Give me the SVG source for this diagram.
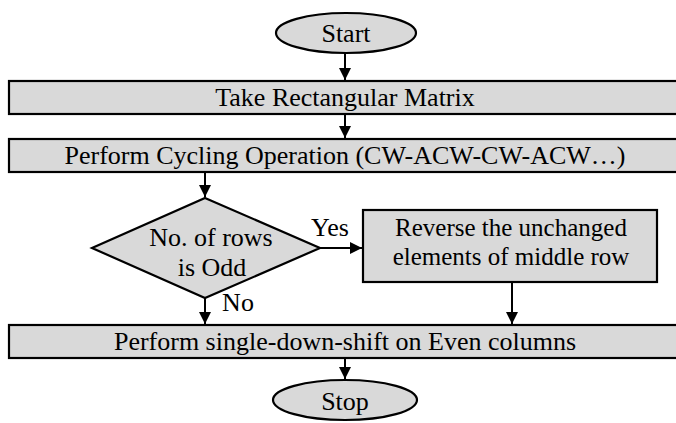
<svg xmlns="http://www.w3.org/2000/svg" width="676" height="423" viewBox="0 0 676 423">
  <style>
    .shape { fill: #d9d9d9; stroke: #000; stroke-width: 2.2; }
    text { font-family: 'Liberation Serif', 'Times New Roman', 'DejaVu Serif', serif; font-size: 26px; fill: #000; text-anchor: middle; }
    .small { font-size: 25px; }
    .edge { fill: none; stroke: #000; stroke-width: 2; marker-end: url(#arrow); }
  </style>
  <defs>
    <marker id="arrow" viewBox="0 0 10 10" refX="10" refY="5" markerWidth="6" markerHeight="6" orient="auto" markerUnits="strokeWidth">
      <path d="M0,0 L10,5 L0,10 z" fill="#000"/>
    </marker>
  </defs>
  <rect width="676" height="423" fill="#fff"/>

  <g id="connectors">
    <line class="edge" x1="345" y1="53" x2="345" y2="80"/>
    <line class="edge" x1="345" y1="114" x2="345" y2="138"/>
    <line class="edge" x1="205" y1="172" x2="205" y2="197"/>
    <line class="edge" x1="320" y1="248" x2="362" y2="248"/>
    <line class="edge" x1="205" y1="298" x2="205" y2="324"/>
    <line class="edge" x1="512" y1="282" x2="512" y2="324"/>
    <line class="edge" x1="345" y1="358" x2="345" y2="379"/>
  </g>

  <g id="start">
    <ellipse class="shape" cx="346" cy="33" rx="70" ry="20"/>
    <text x="346" y="42">Start</text>
  </g>

  <g id="take-matrix">
    <rect class="shape" x="9" y="81" width="680" height="33"/>
    <text x="345" y="106">Take Rectangular Matrix</text>
  </g>

  <g id="cycling">
    <rect class="shape" x="9" y="139" width="680" height="33"/>
    <text x="345" y="164">Perform Cycling Operation (CW-ACW-CW-ACW…)</text>
  </g>

  <g id="odd-rows">
    <polygon class="shape" points="205,198 320,248 205,298 92,248"/>
    <text x="211" y="246">No. of rows</text>
    <text x="212" y="276">is Odd</text>
    <text x="330" y="236">Yes</text>
    <text x="238" y="311">No</text>
  </g>

  <g id="reverse-middle">
    <rect class="shape" x="363" y="210" width="294" height="72"/>
    <text class="small" x="511" y="236">Reverse the unchanged</text>
    <text class="small" x="511" y="265">elements of middle row</text>
  </g>

  <g id="down-shift">
    <rect class="shape" x="9" y="325" width="680" height="33"/>
    <text x="345" y="350">Perform single-down-shift on Even columns</text>
  </g>

  <g id="stop">
    <ellipse class="shape" cx="345" cy="400" rx="72" ry="20"/>
    <text x="345" y="410">Stop</text>
  </g>
</svg>
